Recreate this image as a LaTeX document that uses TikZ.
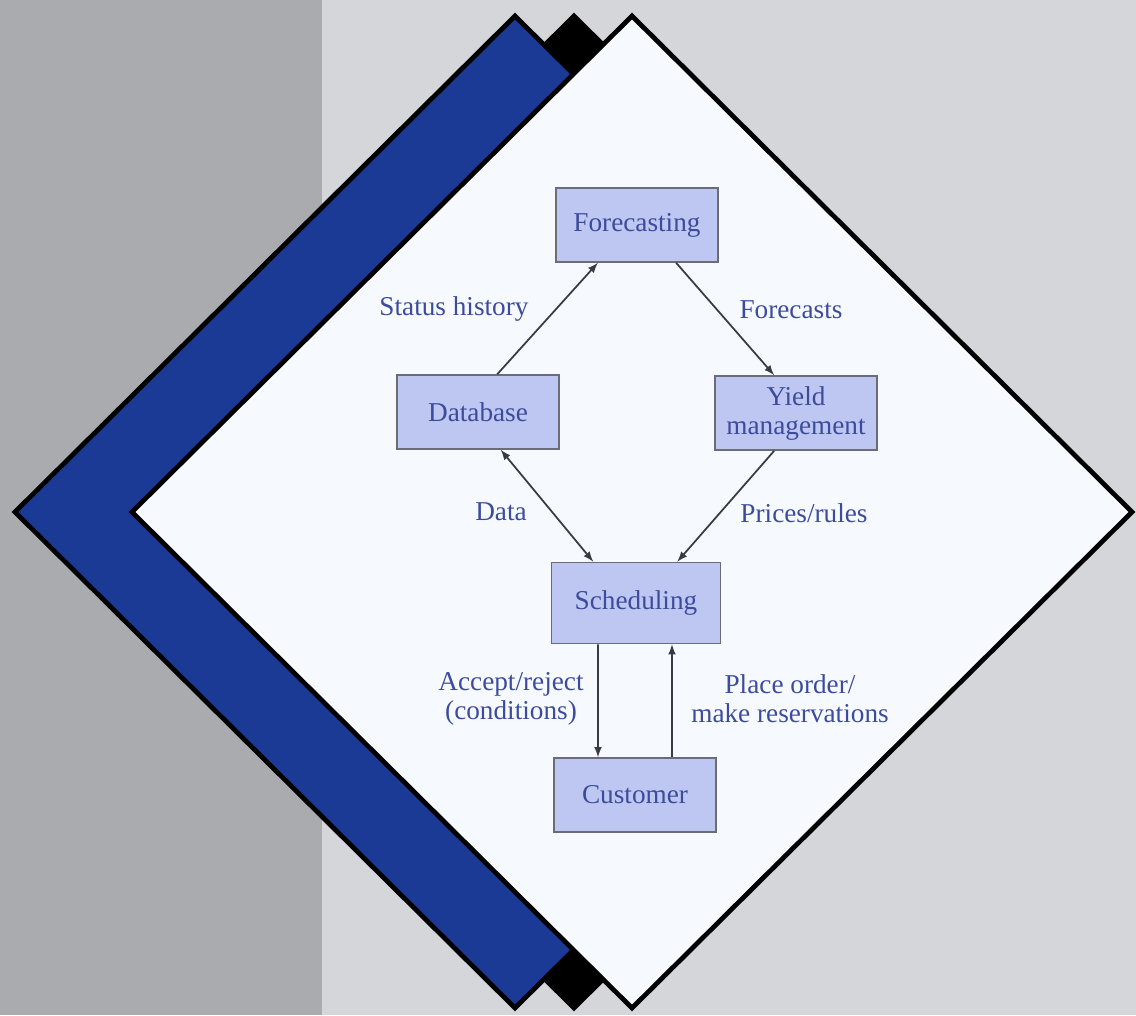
\documentclass[tikz,border=0pt]{standalone}
\usepackage{fontspec}
\setmainfont{Liberation Serif}
\usetikzlibrary{arrows}
\usetikzlibrary{positioning}
\definecolor{PanelDark}{HTML}{A9ABAE}
\definecolor{PanelLight}{HTML}{D5D6D9}
\definecolor{CoverBlue}{HTML}{1A3A95}
\definecolor{PagePaper}{HTML}{F6FAFF}
\definecolor{BoxFill}{HTML}{BEC7F1}
\definecolor{BoxLine}{HTML}{6A6C78}
\definecolor{TextBlue}{HTML}{3C4B9C}
\definecolor{LineGray}{HTML}{3A3A44}
\tikzstyle{normalLine}=[line width=1pt]
\tikzstyle{thickLine}=[line width=2.7pt]
\tikzstyle{Frame}=[thickLine,draw=black,line join=miter]
\tikzstyle{Block}=[draw=BoxLine,fill=BoxFill,line width=.9pt,text=TextBlue,minimum width=3.24cm,minimum height=1.48cm,align=center,inner sep=2pt]
\tikzstyle{Label}=[text=TextBlue,align=center,inner sep=1pt]
\tikzstyle{Arrow}=[>=latex,normalLine,draw=LineGray,->]

\begin{document}
\begin{tikzpicture}[x=0.02cm,y=-0.02cm]

  \fontsize{15.5}{16.5}\selectfont

  % Background
  \fill[PanelDark](0,0) rectangle (322,1015);
  \fill[PanelLight](322,0) rectangle (1136,1015);
  \useasboundingbox (0,0) rectangle (1136,1015);

  % Diamonds
  \filldraw[Frame,fill=black](574,16)--(1074,512)--(574,1008)--(74,512)--cycle;
  \filldraw[Frame,fill=CoverBlue](515,16)--(1015,512)--(515,1008)--(15,512)--cycle;
  \filldraw[Frame,fill=PagePaper](632,16)--(1132,512)--(632,1008)--(132,512)--cycle;

  % Blocks
  \node[Block] (Forecasting) at (637,225) {Forecasting};
  \node[Block] (Database) at (478,412) {Database};
  \node[Block] (Yield) at (796,413) {Yield\\management};
  \node[Block,minimum width=3.38cm,minimum height=1.62cm] (Scheduling) at (636,603) {Scheduling};
  \node[Block] (Customer) at (635,795) {Customer};

  % Arrows
  \draw[Arrow](Database.63)--(Forecasting.224);
  \draw[Arrow](Forecasting.316)--(Yield.120);
  \draw[Arrow,<->](Database.301)--(Scheduling.136);
  \draw[Arrow](Yield.240)--(Scheduling.45);
  \draw[Arrow]([xshift=-0.76cm]Scheduling.south)--([xshift=-0.74cm]Customer.north);
  \draw[Arrow]([xshift=0.74cm]Customer.north)--([xshift=0.72cm]Scheduling.south);

  % Comment
  \node[Label] (StatusHistory) at (454,309) {Status history};
  \node[Label] (Forecasts) at (791,310) {Forecasts};
  \node[Label] (Data) at (501,512) {Data};
  \node[Label] (PricesRules) at (804,513) {Prices/rules};
  \node[Label] (AcceptReject) at (511,699) {Accept/reject\\(conditions)};
  \node[Label] (PlaceOrder) at (790,699) {Place order/\\make reservations};

\end{tikzpicture}
\end{document}
